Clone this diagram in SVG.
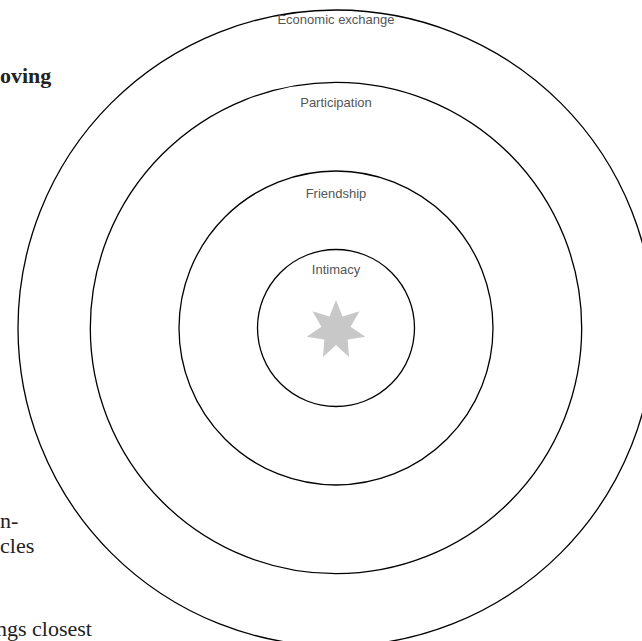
<svg xmlns="http://www.w3.org/2000/svg" width="642" height="641" viewBox="0 0 642 641">
<style>
.ring{fill:none;stroke:#000;stroke-width:1.3}
.lbl{font-family:"Liberation Sans","DejaVu Sans",sans-serif;font-size:13px;fill:#555;text-anchor:middle}
.body{font-family:"Liberation Serif","DejaVu Serif",serif;font-size:22px;fill:#222}
</style>
<rect width="642" height="641" fill="#fff"/>
<g id="page-text">
<text class="body" x="0" y="83" font-size="30" font-weight="bold">oving</text>
<text class="body" x="0" y="528">n-</text>
<text class="body" x="0" y="553">cles</text>
<text class="body" x="-4" y="636">ngs closest</text>
</g>
<g id="economic-exchange">
<circle class="ring" cx="336" cy="328" r="318"/>
<text class="lbl" x="336" y="24">Economic exchange</text>
</g>
<g id="participation">
<circle class="ring" cx="336" cy="328" r="245.7"/>
<text class="lbl" x="336" y="107">Participation</text>
</g>
<g id="friendship">
<circle class="ring" cx="336" cy="328" r="157"/>
<text class="lbl" x="336" y="198">Friendship</text>
</g>
<g id="intimacy">
<circle class="ring" cx="336" cy="328" r="78.5"/>
<text class="lbl" x="336" y="274">Intimacy</text>
</g>
<g id="self">
<polygon fill="#c8c8c8" points="336,300 342.5,316.5 359.5,311.3 350.6,326.7 365.2,336.7 347.7,339.4 349,357 336,345 323,357 324.3,339.4 306.8,336.7 321.4,326.7 312.5,311.3 329.5,316.5"/>
</g>
<g id="connectors"></g>
</svg>
